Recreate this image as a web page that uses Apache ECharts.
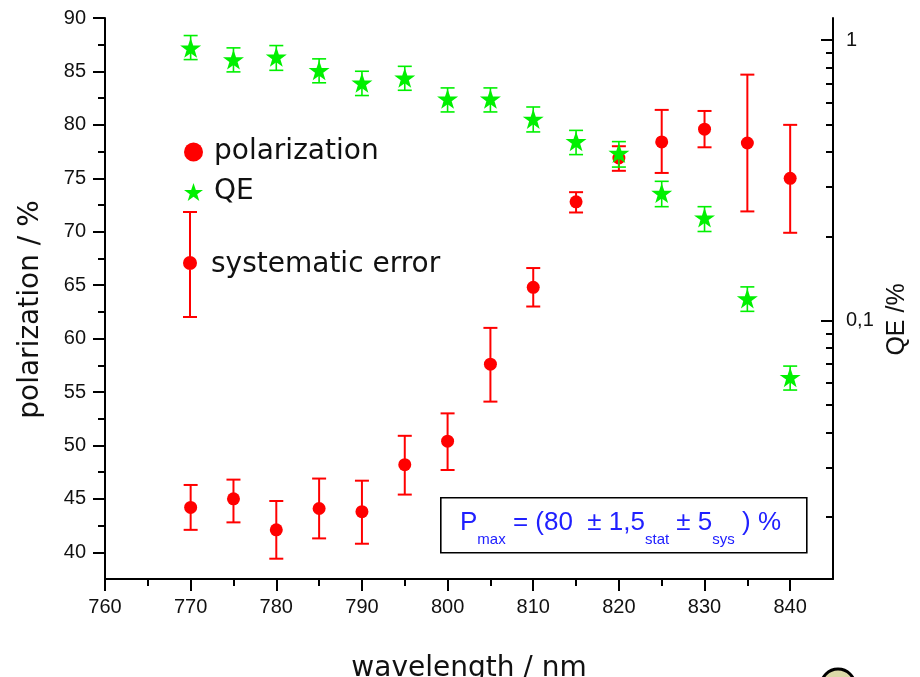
<!DOCTYPE html>
<html>
<head>
<meta charset="utf-8">
<script src="https://cdn.jsdelivr.net/npm/echarts@6/dist/echarts.min.js"></script>
<style>
html,body{margin:0;padding:0;background:#fff;}
#chart{width:920px;height:677px;}
</style>
</head>
<body>
<div id="chart"></div>
<script>
// ---- data ----
const wavelengths = [770, 775, 780, 785, 790, 795, 800, 805, 810, 815, 820, 825, 830, 835, 840];
const polarization = [44.2, 45.0, 42.1, 44.1, 43.8, 48.2, 50.4, 57.6, 64.8, 72.8, 76.9, 78.4, 79.6, 78.3, 75.0];
const polLow  = [42.1, 42.8, 39.4, 41.3, 40.8, 45.4, 47.7, 54.1, 63.0, 71.8, 75.7, 75.5, 77.9, 71.9, 69.9];
const polHigh = [46.3, 46.8, 44.8, 46.9, 46.7, 50.9, 53.0, 61.0, 66.6, 73.7, 78.0, 81.4, 81.3, 84.7, 80.0];
const qe     = [0.939, 0.853, 0.872, 0.781, 0.705, 0.734, 0.618, 0.618, 0.524, 0.436, 0.396, 0.285, 0.233, 0.120, 0.0629];
const qeLow  = [0.853, 0.771, 0.781, 0.705, 0.635, 0.663, 0.555, 0.555, 0.471, 0.391, 0.353, 0.255, 0.208, 0.108, 0.0566];
const qeHigh = [1.039, 0.939, 0.957, 0.858, 0.775, 0.807, 0.676, 0.676, 0.578, 0.477, 0.435, 0.314, 0.255, 0.132, 0.0689];

const xMajorTicks = [760, 770, 780, 790, 800, 810, 820, 830, 840];
const xMinorTicks = [765, 775, 785, 795, 805, 815, 825, 835];
const yMajorTicks = [40, 45, 50, 55, 60, 65, 70, 75, 80, 85, 90];
const yMinorTicks = [42.5, 47.5, 52.5, 57.5, 62.5, 67.5, 72.5, 77.5, 82.5, 87.5];
const qeMajorTicks = [0.1, 1];
const qeMinorTicks = [0.02, 0.03, 0.04, 0.05, 0.06, 0.07, 0.08, 0.09, 0.2, 0.3, 0.4, 0.5, 0.6, 0.7, 0.8, 0.9];

const RED = '#ff0000';
const GREEN = '#00f000';
const INK = '#111111';
const STAR = 'path://M50,0 L61.8,35.1 L98.1,35.1 L68.8,56.7 L79.4,91.1 L50,70 L20.6,91.1 L31.2,56.7 L1.9,35.1 L38.2,35.1 Z';
const ERRICON = 'path://M0,0H14V2H0Z M6,0H8V107H6Z M0,105H14V107H0Z M0,52A7,7 0 1,1 14,52A7,7 0 1,1 0,52Z';

function errRender(capW, lw, color) {
  return function (params, api) {
    const x = api.value(0), lo = api.value(1), hi = api.value(2);
    const a = api.coord([x, lo]), b = api.coord([x, hi]);
    const h = capW / 2;
    const st = { stroke: color, lineWidth: lw, fill: null };
    return {
      type: 'group',
      children: [
        { type: 'line', shape: { x1: a[0], y1: a[1], x2: b[0], y2: b[1] }, style: st },
        { type: 'line', shape: { x1: a[0] - h, y1: a[1], x2: a[0] + h, y2: a[1] }, style: st },
        { type: 'line', shape: { x1: b[0] - h, y1: b[1], x2: b[0] + h, y2: b[1] }, style: st }
      ]
    };
  };
}

const axisLineStyle = { color: '#000', width: 2 };
const labelFont = { fontFamily: 'Liberation Sans', fontSize: 20, color: INK };

const chart = echarts.init(document.getElementById('chart'), null, { renderer: 'canvas' });
chart.setOption({
  animation: false,
  backgroundColor: '#fff',
  grid: { left: 105, right: 87, top: 18, bottom: 98, containLabel: false, outerBoundsMode: 'none' },
  xAxis: [
    {
      type: 'value', min: 760, max: 845, position: 'bottom',
      axisLine: { show: true, lineStyle: axisLineStyle },
      axisTick: { show: true, customValues: xMajorTicks, length: 12, inside: false, lineStyle: { color: '#000', width: 2 } },
      axisLabel: Object.assign({ customValues: xMajorTicks, margin: 18 }, labelFont),
      splitLine: { show: false },
      name: 'wavelength / nm', nameLocation: 'middle', nameGap: 76,
      nameTextStyle: { fontFamily: 'DejaVu Sans', fontSize: 28, color: INK }
    },
    {
      type: 'value', min: 760, max: 845, position: 'bottom',
      axisLine: { show: false },
      axisTick: { show: true, customValues: xMinorTicks, length: 7, inside: false, lineStyle: { color: '#000', width: 2 } },
      axisLabel: { show: false },
      splitLine: { show: false }
    }
  ],
  yAxis: [
    {
      type: 'value', min: 37.5, max: 90, position: 'left',
      axisLine: { show: true, lineStyle: axisLineStyle },
      axisTick: { show: true, customValues: yMajorTicks, length: 12, inside: false, lineStyle: { color: '#000', width: 2 } },
      axisLabel: Object.assign({ customValues: yMajorTicks, margin: 19 }, labelFont),
      splitLine: { show: false },
      name: 'polarization / %', nameLocation: 'middle', nameGap: 60, nameRotate: 90,
      nameTextStyle: { fontFamily: 'DejaVu Sans', fontSize: 28, color: INK, padding: [0, 22, 0, 0] }
    },
    {
      type: 'value', min: 37.5, max: 90, position: 'left',
      axisLine: { show: false },
      axisTick: { show: true, customValues: yMinorTicks, length: 7, inside: false, lineStyle: { color: '#000', width: 2 } },
      axisLabel: { show: false },
      splitLine: { show: false }
    },
    {
      type: 'log', logBase: 10, min: 0.012, max: 1.2, position: 'right',
      axisLine: { show: true, lineStyle: axisLineStyle },
      axisTick: { show: true, customValues: qeMajorTicks, length: 12, inside: true, lineStyle: { color: '#000', width: 2 } },
      axisLabel: Object.assign({ customValues: qeMajorTicks, margin: 13,
        formatter: function (v) { return String(v).replace('.', ','); } }, labelFont),
      splitLine: { show: false },
      name: 'QE /%', nameLocation: 'middle', nameGap: 51, nameRotate: 90,
      nameTextStyle: { fontFamily: 'Liberation Sans', fontSize: 25, color: INK, padding: [0, 42, 0, 0] }
    },
    {
      type: 'log', logBase: 10, min: 0.012, max: 1.2, position: 'right',
      axisLine: { show: false },
      axisTick: { show: true, customValues: qeMinorTicks, length: 7, inside: true, lineStyle: { color: '#000', width: 2 } },
      axisLabel: { show: false },
      splitLine: { show: false }
    }
  ],
  legend: [
    {
      orient: 'vertical', left: 179, top: 133, itemWidth: 19, itemHeight: 19, itemGap: 12,
      selectedMode: false,
      textStyle: { fontFamily: 'DejaVu Sans', fontSize: 28, color: INK, padding: [0, 0, 0, 6] },
      data: [
        { name: 'polarization', icon: 'circle' },
        { name: 'QE', icon: STAR }
      ]
    },
    {
      orient: 'vertical', left: 178, top: 206, itemWidth: 14, itemHeight: 107,
      selectedMode: false,
      textStyle: { fontFamily: 'DejaVu Sans', fontSize: 28, color: INK, padding: [0, 0, 0, 9] },
      data: [{ name: 'systematic error', icon: ERRICON }]
    }
  ],
  series: [
    {
      name: 'systematic error', type: 'custom', xAxisIndex: 0, yAxisIndex: 0,
      renderItem: errRender(14, 2, RED),
      itemStyle: { color: RED },
      encode: { x: 0, y: [1, 2] },
      data: wavelengths.map((w, i) => [w, polLow[i], polHigh[i]]),
      z: 2
    },
    {
      name: 'polarization', type: 'scatter', xAxisIndex: 0, yAxisIndex: 0,
      symbol: 'circle', symbolSize: 13,
      itemStyle: { color: RED, opacity: 1 },
      data: wavelengths.map((w, i) => [w, polarization[i]]),
      z: 3
    },
    {
      name: 'QE error', type: 'custom', xAxisIndex: 0, yAxisIndex: 2,
      renderItem: errRender(14, 1.6, GREEN),
      itemStyle: { color: GREEN },
      encode: { x: 0, y: [1, 2] },
      data: wavelengths.map((w, i) => [w, qeLow[i], qeHigh[i]]),
      z: 4
    },
    {
      name: 'QE', type: 'scatter', xAxisIndex: 0, yAxisIndex: 2,
      symbol: STAR, symbolSize: 21, symbolKeepAspect: true,
      itemStyle: { color: GREEN, opacity: 1 },
      data: wavelengths.map((w, i) => [w, qe[i]]),
      z: 5
    }
  ],
  graphic: [
    {
      type: 'rect', left: 440, top: 497, z: 10,
      shape: { width: 366, height: 55 },
      style: { fill: '#fff', stroke: '#000', lineWidth: 1.6 }
    },
    {
      type: 'text', x: 460, y: 525, z: 11,
      style: {
        text: '{m|P}{s|max}{m| = (80  \u00b1 1,5}{s|stat}{m| \u00b1 5}{s|sys}{m| ) %}',
        verticalAlign: 'middle', align: 'left',
        rich: {
          m: { fontFamily: 'Liberation Sans', fontSize: 26, lineHeight: 30, verticalAlign: 'top', fill: '#2020ff' },
          s: { fontFamily: 'Liberation Sans', fontSize: 15, lineHeight: 16, padding: [22, 0, 0, 0], verticalAlign: 'top', fill: '#2020ff' }
        }
      }
    },
    {
      type: 'circle', z: 10,
      shape: { cx: 838, cy: 686, r: 17 },
      style: { fill: '#dcd9a8', stroke: '#000', lineWidth: 3 }
    }
  ]
});
</script>
</body>
</html>
